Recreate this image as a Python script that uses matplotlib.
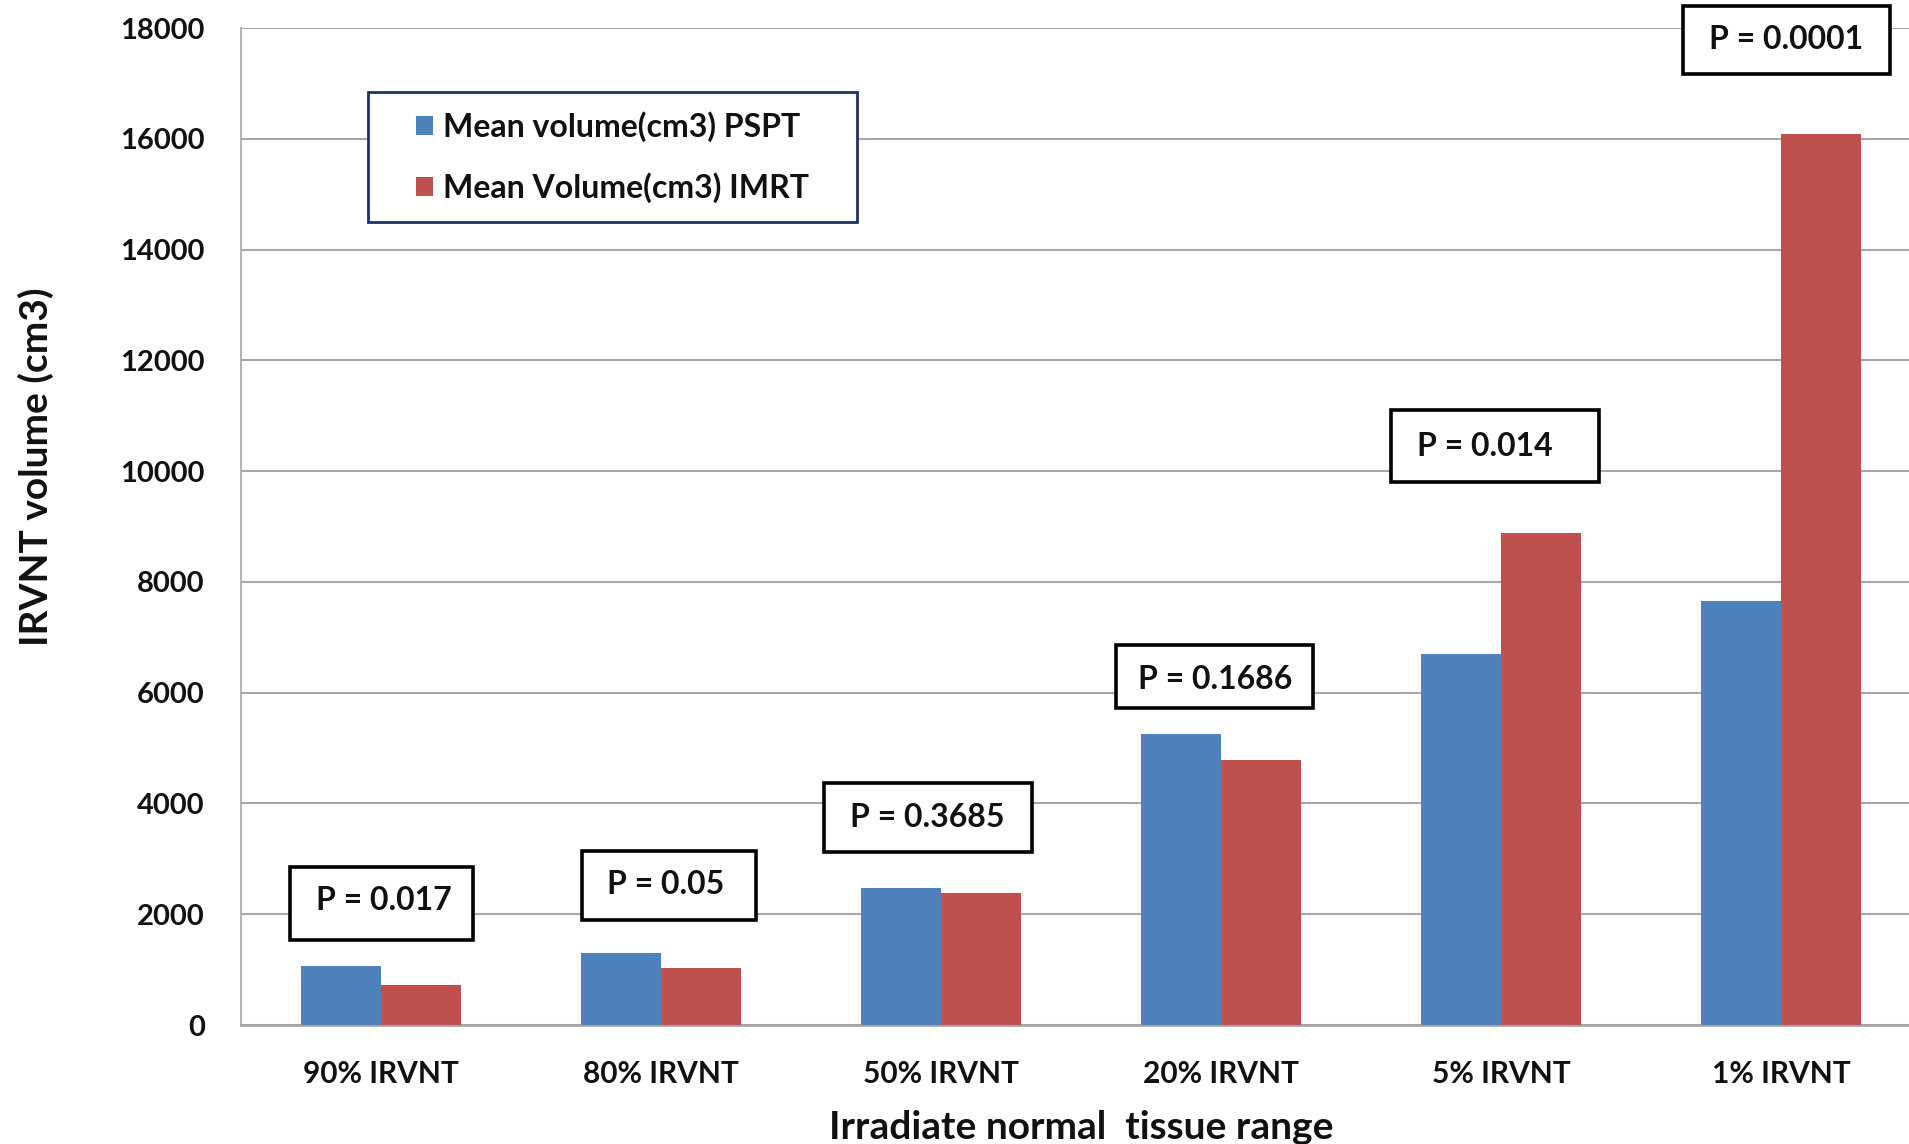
import matplotlib
matplotlib.use("Agg")
import matplotlib.pyplot as plt
from matplotlib.patches import Rectangle
import numpy as np

plt.rcParams['font.family'] = ['Lato', 'DejaVu Sans']
plt.rcParams['font.weight'] = 'bold'

categories = ["90% IRVNT", "80% IRVNT", "50% IRVNT", "20% IRVNT", "5% IRVNT", "1% IRVNT"]
pspt = [1065, 1305, 2470, 5260, 6690, 7650]
imrt = [722, 1030, 2390, 4780, 8880, 16090]
p_labels = ["P = 0.017", "P = 0.05", "P = 0.3685", "P = 0.1686", "P = 0.014", "P = 0.0001"]

#==================== annotation box layout (data coords)
box_x0 = [-0.326, 0.717, 1.583, 2.626, 3.609, 4.652]
box_x1 = [0.330, 1.339, 2.326, 3.330, 4.352, 5.391]
box_y0 = [1540, 1890, 3120, 5715, 9800, 17170]
box_y1 = [2860, 3145, 4375, 6860, 11100, 18400]
txt_x = [0.01, 1.017, 1.952, 2.978, 3.943, 5.017]
txt_y = [2240, 2530, 3740, 6240, 10440, 17800]

blue = '#4F81BD'
red = '#C0504D'

fig = plt.figure(figsize=(19.09, 11.44), dpi=100)
ax = fig.add_axes([0.1262, 0.104, 0.880, 0.8715])

x = np.arange(len(categories))
w = 0.285
ax.bar(x - w/2, pspt, w, color=blue, label='Mean volume(cm3) PSPT', zorder=3)
ax.bar(x + w/2, imrt, w, color=red, label='Mean Volume(cm3) IMRT', zorder=3)

ax.set_xlim(-0.5, 5.5)
ax.set_ylim(0, 18000)
ax.set_yticks(np.arange(0, 18001, 2000))
ax.set_xticks(x)
ax.set_xticklabels(categories)
ax.grid(axis='y', color='#A6A6A6', linewidth=1.5, zorder=0)
for s in ['top', 'right']:
    ax.spines[s].set_visible(False)
ax.spines['left'].set_color('#A6A6A6')
ax.spines['bottom'].set_color('#A6A6A6')
ax.spines['left'].set_linewidth(1.2)
ax.spines['bottom'].set_linewidth(2)
ax.tick_params(axis='y', length=0, labelsize=21, pad=26, labelcolor='#111111')
ax.tick_params(axis='x', length=0, labelsize=21.5, pad=25, labelcolor='#111111')

ax.set_ylabel('IRVNT volume (cm3)', fontsize=28, fontweight='bold', color='#111111')
ax.yaxis.set_label_coords(-0.111, 0.56)
ax.set_xlabel('Irradiate normal  tissue range', fontsize=28, fontweight='bold', color='#111111')
ax.xaxis.set_label_coords(0.5, -0.085)

for i in range(len(p_labels)):
    r = Rectangle((box_x0[i], box_y0[i]), box_x1[i] - box_x0[i], box_y1[i] - box_y0[i],
                  facecolor='white', edgecolor='black', linewidth=2.6, zorder=4, clip_on=False)
    ax.add_patch(r)
    ax.text(txt_x[i], txt_y[i], p_labels[i], ha='center', va='center', fontsize=23,
            fontweight='bold', color='#111111', zorder=5, clip_on=False)

# legend frame drawn by hand (figure pixels)
lx0, lx1, ly0, ly1 = 368, 857, 92, 222
frame = Rectangle((lx0/1909, 1 - ly1/1144), (lx1 - lx0)/1909, (ly1 - ly0)/1144,
                  transform=fig.transFigure, facecolor='white', edgecolor='#1F2F6B',
                  linewidth=2, zorder=6)
fig.patches.append(frame)
leg = fig.legend(loc='center', bbox_to_anchor=((lx0 + lx1)/2/1909, 1 - (ly0 + ly1)/2/1144),
                 fontsize=23, frameon=False, handlelength=0.55, handleheight=0.55,
                 handletextpad=0.3, labelspacing=0.95, borderpad=0, borderaxespad=0)
leg.set_zorder(7)
for t in leg.get_texts():
    t.set_color('#111111')

plt.savefig("out.png", dpi=100)
